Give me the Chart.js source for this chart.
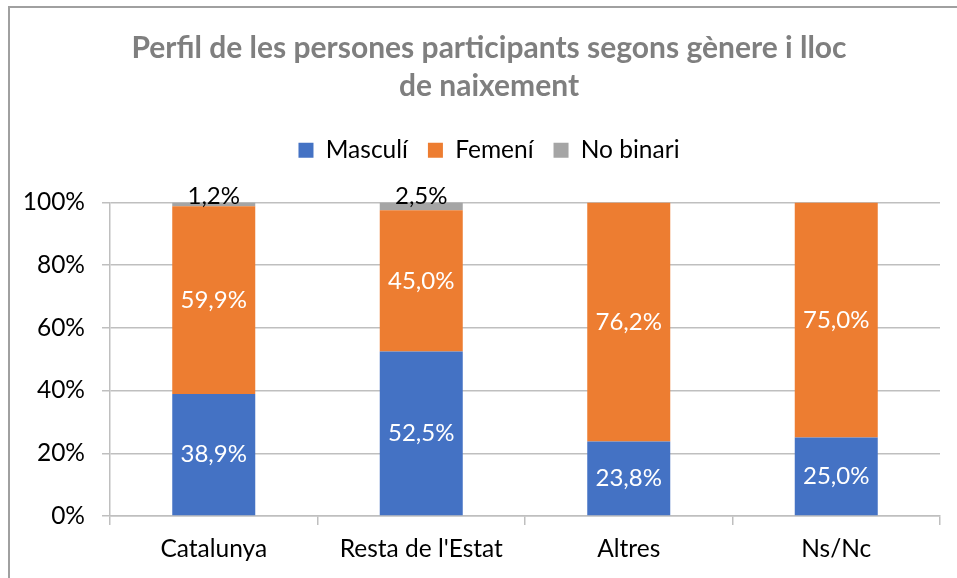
<!DOCTYPE html>
<html>
<head>
<meta charset="utf-8">
<script src="https://cdn.jsdelivr.net/npm/chart.js@4.4.1/dist/chart.umd.min.js"></script>
<style>
  html, body { margin: 0; padding: 0; background: #ffffff; overflow: hidden; }
  #wrap { position: relative; width: 957px; height: 578px; overflow: hidden; }
  #frame { position: absolute; left: 8px; top: 6px; width: 1000px; height: 1000px;
           border-left: 2px solid #a0a0a0; border-top: 2px solid #a0a0a0; }
  canvas { position: absolute; left: 0; top: 0; }
</style>
</head>
<body>
<div id="wrap">
  <div id="frame"></div>
  <canvas id="c" width="978" height="578"></canvas>
</div>
<script>
const titleLines = ['Perfil de les persones participants segons gènere i lloc', 'de naixement'];
const categories = ['Catalunya', "Resta de l'Estat", 'Altres', 'Ns/Nc'];
const seriesNames = ['Masculí', 'Femení', 'No binari'];
const masculi = [38.9, 52.5, 23.8, 25.0];
const femeni = [59.9, 45.0, 76.2, 75.0];
const noBinari = [1.2, 2.5, 0, 0];
const yTicks = [0, 20, 40, 60, 80, 100];

const colors = ['#4472C4', '#ED7D31', '#A5A5A5'];
const FONT = 'Lato, "Open Sans", sans-serif';
const LEGEND_EXTRA = 30;

function fmt(v) { return v.toFixed(1).replace('.', ',') + '%'; }

const legendSpacer = {
  id: 'legendSpacer',
  beforeLayout(chart) {
    const lg = chart.legend;
    if (lg && !lg.__patched) {
      const orig = lg.fit;
      lg.fit = function () { orig.call(this); this.height += LEGEND_EXTRA; };
      lg.__patched = true;
    }
  }
};

const labelPlugin = {
  id: 'barLabels',
  afterDatasetsDraw(chart) {
    const ctx = chart.ctx;
    ctx.save();
    ctx.font = '24px ' + FONT;
    ctx.textAlign = 'center';
    ctx.textBaseline = 'middle';
    chart.data.datasets.forEach((ds, di) => {
      const meta = chart.getDatasetMeta(di);
      meta.data.forEach((el, i) => {
        const v = ds.data[i];
        if (!v) return;
        const p = el.getProps(['x', 'y', 'base'], true);
        if (di === 2) {
          ctx.fillStyle = '#000000';
          ctx.fillText(fmt(v), p.x, p.y - 6);
        } else {
          ctx.fillStyle = '#ffffff';
          ctx.fillText(fmt(v), p.x, (p.y + p.base) / 2);
        }
      });
    });
    ctx.restore();
  }
};

new Chart(document.getElementById('c'), {
  type: 'bar',
  data: {
    labels: categories,
    datasets: [
      { label: seriesNames[0], data: masculi, backgroundColor: colors[0] },
      { label: seriesNames[1], data: femeni, backgroundColor: colors[1] },
      { label: seriesNames[2], data: noBinari, backgroundColor: colors[2] }
    ]
  },
  options: {
    responsive: false,
    animation: false,
    devicePixelRatio: 1,
    layout: { padding: { left: 0, right: 0, top: 0, bottom: 0 } },
    datasets: { bar: { categoryPercentage: 1.0, barPercentage: 0.4 } },
    plugins: {
      title: {
        display: true,
        text: titleLines,
        color: '#7f7f7f',
        font: { family: FONT, size: 30, weight: 'bold', lineHeight: 1.27 },
        padding: { top: 29, bottom: 12.75 }
      },
      legend: {
        display: true,
        position: 'top',
        labels: {
          color: '#000000',
          font: { family: FONT, size: 24.5 },
          boxWidth: 15, boxHeight: 15,
          padding: 20
        }
      },
      tooltip: { enabled: false }
    },
    scales: {
      x: {
        stacked: true,
        grid: { display: true, offset: true, drawOnChartArea: false, drawTicks: true, tickLength: 9, color: '#bfbfbf', lineWidth: 1.5 },
        border: { display: true, color: '#bfbfbf', width: 1.5 },
        ticks: { color: '#000000', font: { family: FONT, size: 24.5 }, padding: 9, maxRotation: 0 },
        afterFit(s) { s.height = 62; }
      },
      y: {
        stacked: true,
        min: 0, max: 100,
        afterBuildTicks(s) { s.ticks = yTicks.map(v => ({ value: v })); },
        grid: { color: '#bfbfbf', lineWidth: 1.5, tickLength: 8, drawTicks: true },
        border: { display: true, color: '#bfbfbf', width: 1.5 },
        ticks: { color: '#000000', font: { family: FONT, size: 24.5 }, padding: 17, callback: v => v + '%' },
        afterFit(s) { s.width = 110; }
      },
      spacer: {
        type: 'linear',
        position: 'right',
        display: true,
        grid: { display: false, drawTicks: false },
        border: { display: false },
        ticks: { display: false },
        afterFit(s) { s.width = 38; }
      }
    }
  },
  plugins: [legendSpacer, labelPlugin]
});
</script>
</body>
</html>
